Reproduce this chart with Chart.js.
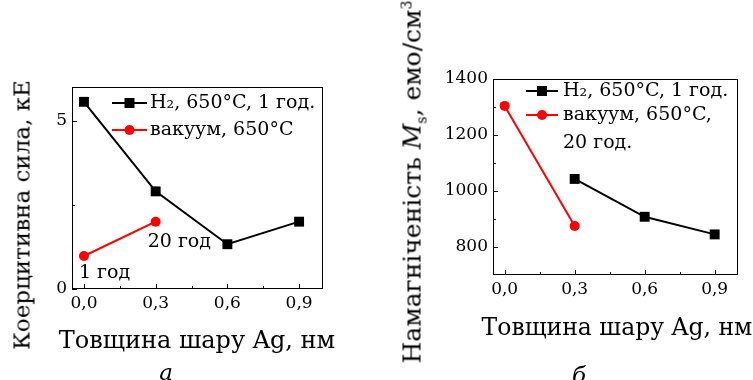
<!DOCTYPE html>
<html>
<head>
<meta charset="utf-8">
<script src="https://cdn.jsdelivr.net/npm/chart.js@4.4.1/dist/chart.umd.min.js"></script>
<style>
    body { margin: 0; background: #fff; }
    #wrap { position: relative; width: 753px; height: 380px; overflow: hidden; font-family: "DejaVu Serif", serif; color: #000; }
    canvas { position: absolute; top: 0; }
    .t { position: absolute; white-space: nowrap; font-size: 23px; line-height: 1; }
    .rot { transform: translate(-50%, -50%) rotate(-90deg); }
    .h { transform: translate(-50%, -50%); }
    .t sub, .t sup { font-size: 14px; line-height: 0; }
</style>
</head>
<body>
<div id="wrap">
    <canvas id="chartA" width="380" height="380" style="left:0"></canvas>
    <canvas id="chartB" width="373" height="380" style="left:380px"></canvas>
    <div class="t rot" style="left:22px;top:215px">Коерцитивна сила, кЕ</div>
    <div class="t h" style="left:197px;top:340px;font-size:24px">Товщина шару Ag, нм</div>
    <div class="t h" style="left:166px;top:372px;font-style:italic">а</div>
    <div class="t rot" style="left:412px;top:182px;font-size:25px">Намагніченість <i>M</i><sub>s</sub>, емо/см<sup>3</sup></div>
    <div class="t h" style="left:617px;top:328px;font-size:23.5px">Товщина шару Ag, нм</div>
    <div class="t h" style="left:579px;top:375px;font-style:italic">б</div>
</div>
<script>
// товщина шару Ag, нм
const xTickValues = [0, 0.15, 0.3, 0.45, 0.6, 0.75, 0.9];
const xTickLabels = ['0,0', '', '0,3', '', '0,6', '', '0,9'];

// (а) коерцитивна сила, кЕ
const coerH2X = [0.0, 0.3, 0.6, 0.9];
const coerH2 = [5.56, 2.9, 1.33, 2.0];
const coerVacX = [0.0, 0.3];
const coerVac = [0.98, 2.0];
const coerTickValues = [0, 2.5, 5];
const coerTickLabels = ['0', '', '5'];
const coerNotes = ['1 год', '20 год'];

// (б) намагніченість Ms, емо/см3
const msH2X = [0.3, 0.6, 0.9];
const msH2 = [1043, 908, 845];
const msVacX = [0.0, 0.3];
const msVac = [1304, 875];
const msTickValues = [800, 900, 1000, 1100, 1200, 1300, 1400];
const msTickLabels = ['800', '', '1000', '', '1200', '', '1400'];

const labelH2 = ['H₂, 650°C, 1 год.'];
const labelVacA = ['вакуум, 650°C'];
const labelVacB = ['вакуум, 650°C,', '20 год.'];

Chart.defaults.font.family = '"DejaVu Serif", serif';
Chart.defaults.color = '#000';

function toPoints(xs, ys) {
    return xs.map((x, i) => ({ x: x, y: ys[i] }));
}

function fixTicks(values) {
    return scale => { scale.ticks = values.map(v => ({ value: v })); };
}

// рамка та внутрішні риски
const frameTicks = {
    id: 'frameTicks',
    beforeDatasetsDraw(chart) {
        const { ctx, chartArea: a, scales } = chart;
        ctx.save();
        ctx.strokeStyle = '#000';
        ctx.lineWidth = 1;
        ctx.strokeRect(a.left + 0.5, a.top + 0.5, a.width - 1, a.height - 1);
        scales.x.ticks.forEach((t, i) => {
            const px = Math.round(scales.x.getPixelForValue(t.value)) + 0.5;
            const len = xTickLabels[i] ? 5 : 3;
            ctx.beginPath();
            ctx.moveTo(px, a.bottom);
            ctx.lineTo(px, a.bottom - len);
            ctx.stroke();
        });
        const yLabels = chart.options.scales.y.tickLabels;
        scales.y.ticks.forEach((t, i) => {
            const py = Math.round(scales.y.getPixelForValue(t.value)) + 0.5;
            const len = yLabels[i] ? 5 : 3;
            ctx.beginPath();
            ctx.moveTo(a.left, py);
            ctx.lineTo(a.left + len, py);
            ctx.stroke();
        });
        ctx.restore();
    }
};

// легенда всередині поля графіка
const innerLegend = {
    id: 'innerLegend',
    afterDatasetsDraw(chart, args, opts) {
        const { ctx, chartArea: a } = chart;
        ctx.save();
        ctx.font = '19px "DejaVu Serif", serif';
        ctx.textBaseline = 'middle';
        let y = a.top + opts.y;
        chart.data.datasets.forEach(ds => {
            const x0 = a.left + opts.x;
            const x1 = x0 + opts.lineLen;
            ctx.strokeStyle = ds.borderColor;
            ctx.lineWidth = 2;
            ctx.beginPath();
            ctx.moveTo(x0, y);
            ctx.lineTo(x1, y);
            ctx.stroke();
            ctx.fillStyle = ds.backgroundColor;
            const mx = (x0 + x1) / 2;
            if (ds.pointStyle === 'rect') {
                ctx.fillRect(mx - 5, y - 5, 10, 10);
            } else {
                ctx.beginPath();
                ctx.arc(mx, y, 5, 0, Math.PI * 2);
                ctx.fill();
            }
            ctx.fillStyle = '#000';
            ds.label.forEach((line, j) => {
                ctx.fillText(line, x1 + opts.gap, y + j * opts.lineGap);
            });
            y += opts.rowGap + (ds.label.length - 1) * opts.lineGap;
        });
        ctx.restore();
    }
};

// підписи біля точок
const pointNotes = {
    id: 'pointNotes',
    afterDatasetsDraw(chart, args, opts) {
        if (!opts.texts) return;
        const { ctx } = chart;
        const meta = chart.getDatasetMeta(opts.dataset);
        ctx.save();
        ctx.font = '19px "DejaVu Serif", serif';
        ctx.textBaseline = 'middle';
        ctx.fillStyle = '#000';
        opts.texts.forEach((txt, i) => {
            const p = meta.data[i];
            ctx.fillText(txt, p.x + opts.dx[i], p.y + opts.dy[i]);
        });
        ctx.restore();
    }
};

function makeChart(id, cfg) {
    const ctx = document.getElementById(id).getContext('2d');
    return new Chart(ctx, {
        type: 'line',
        data: {
            datasets: [{
                label: cfg.labelH2,
                data: cfg.h2,
                borderColor: '#000',
                backgroundColor: '#000',
                borderWidth: 2,
                pointStyle: 'rect',
                pointRadius: 7,
                pointBorderWidth: 0,
                tension: 0
            }, {
                label: cfg.labelVac,
                data: cfg.vac,
                borderColor: '#ff0000',
                backgroundColor: '#ff0000',
                borderWidth: 2,
                pointStyle: 'circle',
                pointRadius: 5,
                pointBorderWidth: 0,
                tension: 0
            }]
        },
        options: {
            responsive: false,
            animation: false,
            layout: { padding: cfg.padding },
            scales: {
                x: {
                    type: 'linear',
                    min: -0.05,
                    max: 1.0,
                    afterBuildTicks: fixTicks(xTickValues),
                    afterFit: s => { s.height = cfg.xHeight; },
                    grid: { display: false, drawTicks: false },
                    border: { display: false },
                    ticks: {
                        padding: 4,
                        maxRotation: 0,
                        autoSkip: false,
                        font: { size: 17 },
                        callback: (v, i) => xTickLabels[i]
                    }
                },
                y: {
                    type: 'linear',
                    min: cfg.yMin,
                    max: cfg.yMax,
                    tickLabels: cfg.yLabels,
                    afterBuildTicks: fixTicks(cfg.yTicks),
                    afterFit: s => { s.width = cfg.yWidth; },
                    grid: { display: false, drawTicks: false },
                    border: { display: false },
                    ticks: {
                        padding: 5,
                        autoSkip: false,
                        font: { size: 17 },
                        callback: (v, i) => cfg.yLabels[i]
                    }
                }
            },
            plugins: {
                legend: { display: false },
                tooltip: { enabled: false },
                innerLegend: cfg.legend,
                pointNotes: cfg.notes
            }
        },
        plugins: [frameTicks, innerLegend, pointNotes]
    });
}

window.onload = () => {
    makeChart('chartA', {
        h2: toPoints(coerH2X, coerH2),
        vac: toPoints(coerVacX, coerVac),
        labelH2: labelH2,
        labelVac: labelVacA,
        yMin: 0, yMax: 6,
        yTicks: coerTickValues,
        yLabels: coerTickLabels,
        padding: { left: 0, top: 87, right: 57, bottom: 0 },
        yWidth: 72,
        xHeight: 91,
        legend: { x: 40, y: 16, lineLen: 35, gap: 3, rowGap: 27, lineGap: 28 },
        notes: { dataset: 1, texts: coerNotes, dx: [-5, -8], dy: [17, 20] }
    });
    makeChart('chartB', {
        h2: toPoints(msH2X, msH2),
        vac: toPoints(msVacX, msVac),
        labelH2: labelH2,
        labelVac: labelVacB,
        yMin: 700, yMax: 1400,
        yTicks: msTickValues,
        yLabels: msTickLabels,
        padding: { left: 0, top: 79, right: 15, bottom: 0 },
        yWidth: 113,
        xHeight: 105,
        legend: { x: 33, y: 12, lineLen: 32, gap: 5, rowGap: 24, lineGap: 28 },
        notes: {}
    });
};
</script>
</body>
</html>
